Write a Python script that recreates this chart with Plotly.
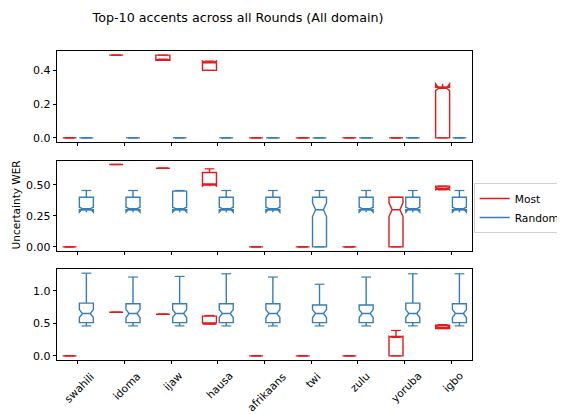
import plotly.graph_objects as go
from plotly.subplots import make_subplots

accents = ["swahili", "idoma", "ijaw", "hausa", "afrikaans", "twi", "zulu", "yoruba", "igbo"]

# top panel
top_most_q1 = [0, 0.49, 0.46, 0.40, 0, 0, 0, 0, 0]
top_most_med = [0, 0.49, 0.46, 0.45, 0, 0, 0, 0, 0.30]
top_most_q3 = [0, 0.49, 0.49, 0.45, 0, 0, 0, 0, 0.30]
top_most_lo = [0, 0.49, 0.46, 0.40, 0, 0, 0, 0, 0]
top_most_hi = [0, 0.49, 0.49, 0.455, 0, 0, 0, 0, 0.30]
top_most_notch = [0, 0, 0, 0.005, 0, 0, 0, 0, 0.02]
top_rand_q1 = [0] * 9
top_rand_med = [0] * 9
top_rand_q3 = [0] * 9
top_rand_lo = [0] * 9
top_rand_hi = [0] * 9
top_rand_notch = [0] * 9

# middle panel
mid_most_q1 = [0, 0.665, 0.635, 0.50, 0, 0, 0, 0, 0.465]
mid_most_med = [0, 0.665, 0.635, 0.50, 0, 0, 0, 0.30, 0.47]
mid_most_q3 = [0, 0.665, 0.635, 0.60, 0, 0, 0, 0.40, 0.49]
mid_most_lo = [0, 0.665, 0.635, 0.50, 0, 0, 0, 0, 0.46]
mid_most_hi = [0, 0.665, 0.635, 0.63, 0, 0, 0, 0.40, 0.49]
mid_most_notch = [0, 0, 0, 0.01, 0, 0, 0, 0.055, 0.01]
mid_rand_q1 = [0.30, 0.30, 0.30, 0.30, 0.30, 0, 0.30, 0.30, 0.30]
mid_rand_med = [0.30] * 9
mid_rand_q3 = [0.40, 0.40, 0.45, 0.40, 0.40, 0.40, 0.40, 0.40, 0.40]
mid_rand_lo = [0.30, 0.30, 0.30, 0.30, 0.30, 0, 0.30, 0.30, 0.30]
mid_rand_hi = [0.455] * 9
mid_rand_notch = [0.02, 0.02, 0.02, 0.02, 0.02, 0.055, 0.02, 0.02, 0.02]

# bottom panel
bot_most_q1 = [0, 0.67, 0.64, 0.49, 0, 0, 0, 0, 0.42]
bot_most_med = [0, 0.67, 0.64, 0.50, 0, 0, 0, 0.30, 0.44]
bot_most_q3 = [0, 0.67, 0.64, 0.61, 0, 0, 0, 0.30, 0.47]
bot_most_lo = [0, 0.67, 0.64, 0.49, 0, 0, 0, 0, 0.42]
bot_most_hi = [0, 0.67, 0.64, 0.62, 0, 0, 0, 0.39, 0.48]
bot_most_notch = [0, 0, 0, 0.01, 0, 0, 0, 0, 0.01]
bot_rand_q1 = [0.51] * 9
bot_rand_med = [0.65] * 9
bot_rand_q3 = [0.81, 0.80, 0.80, 0.80, 0.80, 0.78, 0.78, 0.81, 0.80]
bot_rand_lo = [0.46] * 9
bot_rand_hi = [1.27, 1.21, 1.22, 1.26, 1.21, 1.10, 1.21, 1.26, 1.26]
bot_rand_notch = [0.06] * 9

panels = [
    {
        "Most": (top_most_q1, top_most_med, top_most_q3, top_most_lo, top_most_hi, top_most_notch),
        "Random": (top_rand_q1, top_rand_med, top_rand_q3, top_rand_lo, top_rand_hi, top_rand_notch),
    },
    {
        "Most": (mid_most_q1, mid_most_med, mid_most_q3, mid_most_lo, mid_most_hi, mid_most_notch),
        "Random": (mid_rand_q1, mid_rand_med, mid_rand_q3, mid_rand_lo, mid_rand_hi, mid_rand_notch),
    },
    {
        "Most": (bot_most_q1, bot_most_med, bot_most_q3, bot_most_lo, bot_most_hi, bot_most_notch),
        "Random": (bot_rand_q1, bot_rand_med, bot_rand_q3, bot_rand_lo, bot_rand_hi, bot_rand_notch),
    },
]

colormap = {"Most": "#e41a1c", "Random": "#377eb8"}
offsets = {"Most": -0.18, "Random": 0.18}
font = dict(family="DejaVu Sans", size=11, color="black")

fig = make_subplots(rows=3, cols=1, shared_xaxes=False)

for row, panel in enumerate(panels, start=1):
    for group, (q1, med, q3, lo, hi, notch) in panel.items():
        pos = [i + offsets[group] for i in range(len(accents))]
        color = colormap[group]
        fig.add_trace(
            go.Box(
                x=pos,
                q1=q1,
                median=med,
                q3=q3,
                lowerfence=lo,
                upperfence=hi,
                notchspan=notch,
                notched=True,
                notchwidth=0.22,
                width=0.3,
                line=dict(color=color, width=1.4),
                fillcolor="rgba(0,0,0,0)",
                whiskerwidth=0,
                boxpoints=False,
                showlegend=False,
                hoverinfo="skip",
            ),
            row=row,
            col=1,
        )
        # whisker caps
        fig.add_trace(
            go.Scatter(
                x=pos + pos,
                y=hi + lo,
                mode="markers",
                marker=dict(symbol="line-ew", size=7, line=dict(color=color, width=1.2)),
                showlegend=False,
                hoverinfo="skip",
            ),
            row=row,
            col=1,
        )

for group, color in colormap.items():
    fig.add_trace(
        go.Scatter(x=[None], y=[None], mode="lines", name=group, line=dict(color=color, width=1.5)),
        row=2,
        col=1,
    )

axis_settings = dict(
    ticks="outside",
    ticklen=3.5,
    tickwidth=0.8,
    tickcolor="black",
    showgrid=False,
    showline=True,
    linecolor="black",
    linewidth=0.8,
    mirror=True,
    zeroline=False,
    tickfont=font,
)

domains = [[0.7055, 1.0], [0.3528, 0.644], [0.0, 0.2945]]
yranges = [[-0.0245, 0.5145], [-0.033, 0.693], [-0.0635, 1.334]]
ydticks = [0.2, 0.25, 0.5]
yformats = [".1f", ".2f", ".1f"]

for i in range(3):
    fig.update_xaxes(
        axis_settings,
        range=[-0.45, len(accents) - 0.55],
        tickvals=list(range(len(accents))),
        showticklabels=False,
        row=i + 1,
        col=1,
    )
    fig.update_yaxes(
        axis_settings,
        domain=domains[i],
        range=yranges[i],
        dtick=ydticks[i],
        tick0=0,
        tickformat=yformats[i],
        row=i + 1,
        col=1,
    )

# rotated category labels, centred under each tick like matplotlib
for i, name in enumerate(accents):
    fig.add_annotation(
        text=name,
        xref="x3",
        yref="paper",
        x=i,
        y=0,
        xanchor="center",
        yanchor="top",
        xshift=2,
        yshift=-7,
        textangle=-45,
        showarrow=False,
        font=dict(family="DejaVu Sans", size=10.7, color="black"),
    )

fig.add_annotation(
    text="Uncertainty WER",
    xref="paper",
    yref="paper",
    x=-0.1,
    y=0.502,
    xanchor="center",
    yanchor="middle",
    textangle=-90,
    showarrow=False,
    font=dict(family="DejaVu Sans", size=10.5, color="black"),
)

# the page body adds an 8px offset, so the figure is 8px smaller than the window
fig.update_layout(
    width=557,
    height=406,
    margin=dict(l=49, r=93, t=43, b=54, autoexpand=False),
    plot_bgcolor="white",
    paper_bgcolor="white",
    title=dict(
        text="Top-10 accents across all Rounds (All domain)",
        xref="container",
        yref="container",
        x=0.413,
        xanchor="center",
        y=0.977,
        yanchor="middle",
        font=dict(family="DejaVu Sans", size=12.7, color="black"),
    ),
    legend=dict(
        x=1.004,
        y=0.573,
        xanchor="left",
        yanchor="top",
        bordercolor="#d0d0d0",
        borderwidth=1,
        font=dict(family="DejaVu Sans", size=10.7, color="black"),
        tracegroupgap=0,
    ),
)

fig.write_html("out.html")
